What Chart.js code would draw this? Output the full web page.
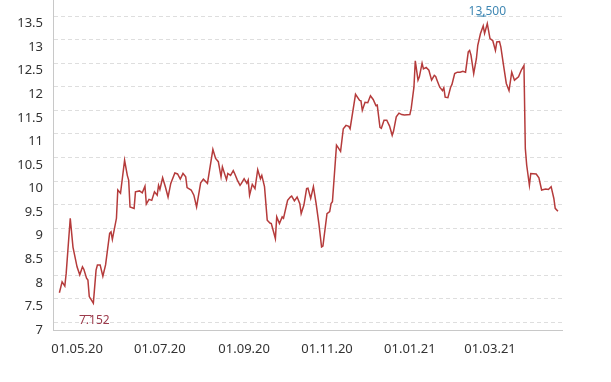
<!DOCTYPE html>
<html>
<head>
<meta charset="utf-8">
<script src="https://cdn.jsdelivr.net/npm/chart.js"></script>
<style>
  body { margin: 0; background: #fff; }
  canvas { display: block; }
</style>
</head>
<body>
<canvas id="chart" width="611" height="382"></canvas>
<script>
const dates = [
  '2020-04-18', '2020-04-20', '2020-04-22', '2020-04-23', '2020-04-26', '2020-04-28',
  '2020-05-01', '2020-05-03', '2020-05-05', '2020-05-06', '2020-05-08', '2020-05-09',
  '2020-05-10', '2020-05-13', '2020-05-15', '2020-05-16', '2020-05-18', '2020-05-20',
  '2020-05-22', '2020-05-25', '2020-05-26', '2020-05-27', '2020-05-30', '2020-05-31',
  '2020-06-02', '2020-06-05', '2020-06-07', '2020-06-08', '2020-06-09', '2020-06-12',
  '2020-06-13', '2020-06-16', '2020-06-18', '2020-06-20', '2020-06-21', '2020-06-23',
  '2020-06-25', '2020-06-27', '2020-06-29', '2020-06-30', '2020-07-01', '2020-07-03',
  '2020-07-05', '2020-07-07', '2020-07-09', '2020-07-12', '2020-07-14', '2020-07-16',
  '2020-07-18', '2020-07-20', '2020-07-21', '2020-07-24', '2020-07-26', '2020-07-28',
  '2020-07-31', '2020-08-02', '2020-08-05', '2020-08-09', '2020-08-11', '2020-08-13',
  '2020-08-15', '2020-08-16', '2020-08-19', '2020-08-20', '2020-08-22', '2020-08-24',
  '2020-08-25', '2020-08-27', '2020-08-29', '2020-08-30', '2020-09-01', '2020-09-03',
  '2020-09-04', '2020-09-05', '2020-09-07', '2020-09-09', '2020-09-11', '2020-09-13',
  '2020-09-14', '2020-09-16', '2020-09-18', '2020-09-20', '2020-09-21', '2020-09-24',
  '2020-09-25', '2020-09-27', '2020-09-29', '2020-09-30', '2020-10-03', '2020-10-05',
  '2020-10-06', '2020-10-08', '2020-10-10', '2020-10-12', '2020-10-13', '2020-10-15',
  '2020-10-17', '2020-10-18', '2020-10-20', '2020-10-22', '2020-10-24', '2020-10-26',
  '2020-10-28', '2020-10-29', '2020-11-01', '2020-11-03', '2020-11-04', '2020-11-05',
  '2020-11-08', '2020-11-09', '2020-11-11', '2020-11-13', '2020-11-15', '2020-11-17',
  '2020-11-18', '2020-11-22', '2020-11-25', '2020-11-26', '2020-11-27', '2020-11-29',
  '2020-12-01', '2020-12-03', '2020-12-05', '2020-12-07', '2020-12-08', '2020-12-10',
  '2020-12-11', '2020-12-13', '2020-12-15', '2020-12-17', '2020-12-19', '2020-12-20',
  '2020-12-22', '2020-12-24', '2020-12-26', '2020-12-28', '2021-01-01', '2021-01-02',
  '2021-01-04', '2021-01-05', '2021-01-07', '2021-01-08', '2021-01-10', '2021-01-11',
  '2021-01-13', '2021-01-15', '2021-01-17', '2021-01-19', '2021-01-20', '2021-01-21',
  '2021-01-23', '2021-01-25', '2021-01-26', '2021-01-27', '2021-01-29', '2021-01-31',
  '2021-02-01', '2021-02-03', '2021-02-05', '2021-02-07', '2021-02-09', '2021-02-11',
  '2021-02-13', '2021-02-14', '2021-02-15', '2021-02-17', '2021-02-19', '2021-02-20',
  '2021-02-22', '2021-02-24', '2021-02-25', '2021-02-27', '2021-03-01', '2021-03-03',
  '2021-03-05', '2021-03-06', '2021-03-08', '2021-03-09', '2021-03-11', '2021-03-13',
  '2021-03-15', '2021-03-17', '2021-03-19', '2021-03-22', '2021-03-24', '2021-03-26',
  '2021-03-27', '2021-03-28', '2021-03-30', '2021-03-31', '2021-04-04', '2021-04-06',
  '2021-04-08', '2021-04-11', '2021-04-13', '2021-04-15', '2021-04-17', '2021-04-18',
  '2021-04-20'
]

const prices = [
  7.79, 8.02, 7.93, 8.20, 9.37, 8.76,
  8.34, 8.17, 8.34, 8.29, 8.10, 8.06,
  7.71, 7.57, 8.27, 8.38, 8.38, 8.14,
  8.38, 9.05, 9.08, 8.92, 9.37, 9.97,
  9.90, 10.60, 10.28, 10.18, 9.61, 9.58,
  9.93, 9.95, 9.91, 10.05, 9.67, 9.77,
  9.75, 9.93, 9.86, 10.07, 9.98, 10.23,
  10.04, 9.82, 10.11, 10.33, 10.31, 10.20,
  10.32, 10.25, 10.02, 9.97, 9.86, 9.61,
  10.12, 10.20, 10.11, 10.83, 10.64, 10.57,
  10.25, 10.46, 10.19, 10.32, 10.28, 10.38,
  10.32, 10.18, 10.07, 10.11, 10.21, 10.11,
  10.18, 9.86, 10.09, 10.00, 10.40, 10.21,
  10.28, 10.04, 9.33, 9.27, 9.26, 8.94,
  9.40, 9.26, 9.40, 9.37, 9.75, 9.82,
  9.84, 9.74, 9.82, 9.68, 9.47, 9.65,
  10.00, 10.01, 9.79, 10.04, 9.68, 9.26,
  8.76, 8.78, 9.47, 9.51, 9.68, 9.72,
  10.92, 10.88, 10.79, 11.27, 11.34, 11.32,
  11.27, 12.00, 11.87, 11.86, 11.66, 11.83,
  11.82, 11.97, 11.89, 11.76, 11.77, 11.30,
  11.28, 11.45, 11.45, 11.33, 11.13, 11.22,
  11.52, 11.60, 11.57, 11.56, 11.57, 11.70,
  12.15, 12.71, 12.30, 12.37, 12.66, 12.54,
  12.57, 12.51, 12.30, 12.40, 12.38, 12.30,
  12.15, 12.08, 12.14, 11.94, 11.93, 12.15,
  12.21, 12.44, 12.47, 12.47, 12.49, 12.47,
  12.90, 12.93, 12.83, 12.44, 12.76, 13.04,
  13.29, 13.45, 13.29, 13.50, 13.18, 13.14,
  12.93, 13.11, 13.12, 13.00, 12.61, 12.23,
  12.08, 12.47, 12.30, 12.37, 12.51, 12.61,
  10.85, 10.50, 10.07, 10.32, 10.31, 10.23,
  9.97, 9.99, 9.98, 10.04, 9.79, 9.58,
  9.52
]

const xTickLabels = ['01.05.20', '01.07.20', '01.09.20', '01.11.20', '01.01.21', '01.03.21']
const yTickValues = [7, 7.5, 8, 8.5, 9, 9.5, 10, 10.5, 11, 11.5, 12, 12.5, 13, 13.5]
const minLabel = '7.152'
const maxLabel = '13,500'

const DAY = 86400000
const toDay = iso => Date.parse(iso + 'T00:00:00Z') / DAY
const tickToDay = s => {
  let [d, m, y] = s.split('.')
  return toDay('20' + y + '-' + m + '-' + d)
}
const dayToLabel = v => {
  let dt = new Date(Math.round(v) * DAY)
  let pad = n => String(n).padStart(2, '0')
  return pad(dt.getUTCDate()) + '.' + pad(dt.getUTCMonth() + 1) + '.' + String(dt.getUTCFullYear()).slice(2)
}

const points = dates.map((d, i) => ({ x: toDay(d), y: prices[i] }))
const firstTick = tickToDay(xTickLabels[0])

const font = { family: 'Noto Sans', size: 13 }
const textColor = '#333'
const axisColor = '#c8c8c8'

// dashed grid, drawn a bit above each y label like in the source
const gridPlugin = {
  id: 'offsetGrid',
  beforeDatasetsDraw(chart) {
    let { ctx, chartArea, scales } = chart
    ctx.save()
    ctx.strokeStyle = '#dedede'
    ctx.lineWidth = 1
    ctx.setLineDash([4, 3])
    yTickValues.forEach(v => {
      let y = Math.round(scales.y.getPixelForValue(v) - 8) + 0.5
      ctx.beginPath()
      ctx.moveTo(chartArea.left + 1, y)
      ctx.lineTo(chartArea.right, y)
      ctx.stroke()
    })
    ctx.restore()
  }
}

const markPlugin = {
  id: 'minMax',
  afterDatasetsDraw(chart) {
    let { ctx, scales } = chart
    let iMin = prices.indexOf(Math.min(...prices))
    let iMax = prices.indexOf(Math.max(...prices))
    ctx.save()
    ctx.font = '12px "Noto Sans"'
    ctx.textAlign = 'center'
    ctx.textBaseline = 'middle'

    let x = scales.x.getPixelForValue(points[iMin].x)
    let y = scales.y.getPixelForValue(7) - 10
    ctx.fillStyle = '#9c3b4c'
    ctx.fillText(minLabel, x + 1, y + 1)
    ctx.strokeStyle = '#9c3b4c'
    ctx.beginPath()
    ctx.moveTo(x - 12, y - 4.5)
    ctx.lineTo(x - 2, y - 4.5)
    ctx.stroke()

    x = scales.x.getPixelForValue(points[iMax].x)
    y = scales.y.getPixelForValue(prices[iMax]) - 12
    ctx.fillStyle = '#3f87b3'
    ctx.fillText(maxLabel, x, y)
    ctx.strokeStyle = '#3f87b3'
    ctx.beginPath()
    ctx.moveTo(x - 10, y + 4.5)
    ctx.lineTo(x - 1, y + 4.5)
    ctx.stroke()
    ctx.restore()
  }
}

new Chart(document.getElementById('chart'), {
  type: 'line',
  data: {
    datasets: [{
      data: points,
      borderColor: '#b53b3b',
      borderWidth: 1.5,
      pointRadius: 0,
      tension: 0,
      fill: false
    }]
  },
  options: {
    responsive: false,
    animation: false,
    devicePixelRatio: 1,
    layout: { padding: { left: 0, right: 49, top: 0, bottom: 0 } },
    plugins: { legend: { display: false }, tooltip: { enabled: false } },
    scales: {
      x: {
        type: 'linear',
        min: firstTick - 17.7,
        max: firstTick + 357,
        grid: { display: false, drawTicks: false },
        border: { display: true, color: axisColor },
        afterBuildTicks: scale => {
          scale.ticks = xTickLabels.map(s => ({ value: tickToDay(s) }))
        },
        ticks: {
          autoSkip: false,
          maxRotation: 0,
          padding: 11,
          color: textColor,
          font,
          callback: v => dayToLabel(v)
        },
        afterFit: scale => {
          scale.height = 52
          scale.paddingLeft = 0
          scale.paddingRight = 0
        }
      },
      y: {
        min: 7,
        max: 14,
        grid: { display: false, drawTicks: false },
        border: { display: true, color: axisColor },
        afterBuildTicks: scale => {
          scale.ticks = yTickValues.map(v => ({ value: v }))
        },
        ticks: {
          autoSkip: false,
          padding: 10,
          color: textColor,
          font,
          callback: v => String(v)
        },
        afterFit: scale => {
          scale.width = 53
          scale.paddingTop = 0
          scale.paddingBottom = 0
        }
      }
    }
  },
  plugins: [gridPlugin, markPlugin]
})
</script>
</body>
</html>
